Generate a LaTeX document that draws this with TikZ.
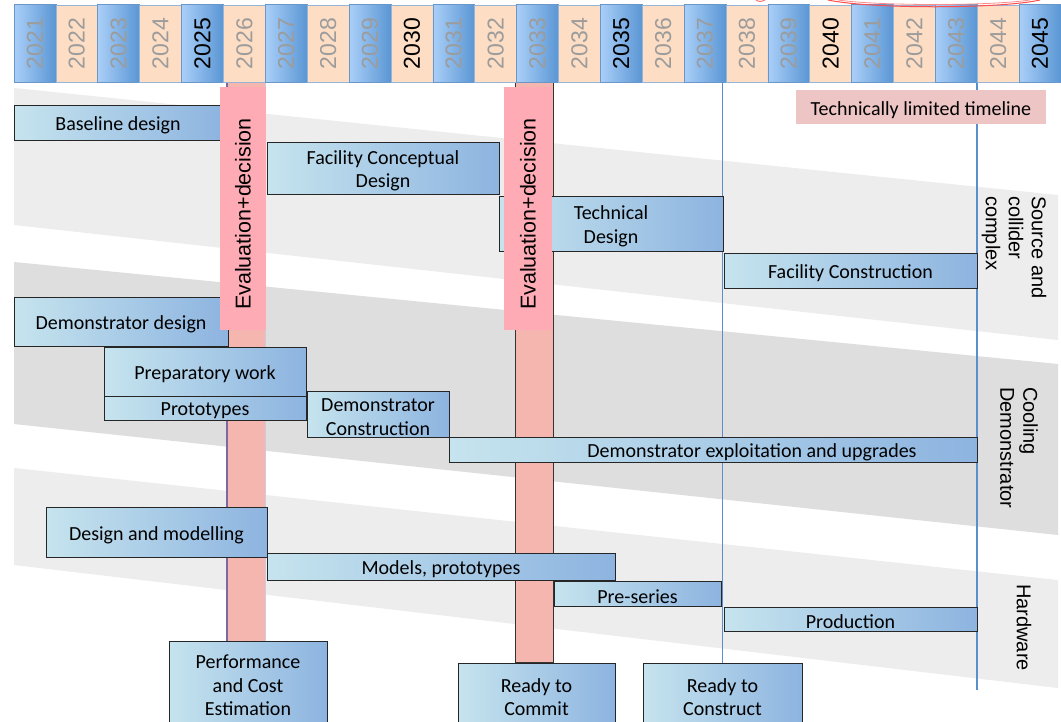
\documentclass[tikz,border=0pt]{standalone}
\usepackage{fontspec}
\usepackage{graphicx}
\setmainfont{Carlito}
\newfontfamily\arialf{Liberation Sans}
\usetikzlibrary{shadows}
\definecolor{bandA}{HTML}{EDEDED}
\definecolor{bandB}{HTML}{DEDEDE}
\definecolor{yrBlueL}{HTML}{AACFF8}
\definecolor{yrBlueR}{HTML}{5A96D4}
\definecolor{yrPeach}{HTML}{FDDDC3}
\definecolor{yrEdge}{HTML}{6A96C8}
\definecolor{yrGrey}{HTML}{9C9C9C}
\definecolor{boxL}{HTML}{C6E4EE}
\definecolor{boxR}{HTML}{8DB4E0}
\definecolor{evalPink}{HTML}{FFABB5}
\definecolor{colSalmon}{HTML}{F5B6AF}
\definecolor{colPurple}{HTML}{7A6AA0}
\definecolor{colLav}{HTML}{CFC8E2}
\definecolor{lineBlue}{HTML}{5B8FCB}
\definecolor{tltPink}{HTML}{EEC5C5}
\newcommand\taskbox[6]{%
  \node[task] (#1) at ({(#2+#4)/2},{(#3+#5)/2})
     [minimum width={(#4-#2)*1pt}, minimum height={(#5-#3)*1pt}] {};
  \node[tasktext] (#1t) at ([yshift=-3pt]#1.center) {#6};}
\begin{document}
\begin{tikzpicture}[x=1pt,y=-1pt,
  task/.style={draw=black!85, line width=0.7pt, left color=boxL, right color=boxR,
    inner sep=0pt,
    drop shadow={shadow xshift=1pt, shadow yshift=-1pt, opacity=0.25}},
  tasktext/.style={inner sep=0pt, align=center, font=\fontsize{20}{23.5}\selectfont},
  yrblue/.style={draw=yrEdge, line width=0.6pt, left color=yrBlueL, right color=yrBlueR,
    minimum width=41.88pt, minimum height=78pt, inner sep=0pt},
  yrpeach/.style={draw=yrEdge!70, line width=0.6pt, fill=yrPeach,
    minimum width=41.88pt, minimum height=77pt, inner sep=0pt},
  evallabel/.style={fill=evalPink, inner sep=0pt, font=\arialf\fontsize{21.5}{24}\selectfont},
  sidelabel/.style={rotate=-90, anchor=west, align=left, inner sep=0pt,
    font=\arialf\fontsize{20}{23}\selectfont},
  vline/.style={draw=lineBlue, line width=1.7pt},
]
\useasboundingbox (0,0) rectangle (1061,721);
\fill[white] (0,0) rectangle (1061,721);

% background bands
\fill[bandA] (14,88) -- (1058,195) -- (1058,340) -- (14,225) -- cycle;
\fill[bandB] (14,262) -- (1058,364) -- (1058,535) -- (14,424) -- cycle;
\fill[bandA] (14,468) -- (1058,580) -- (1058,688) -- (14,565) -- cycle;

% bottom milestone boxes (placed first so columns can reach them)
\taskbox{pce}{169}{641}{327}{724}{Performance\\and Cost\\Estimation}
\taskbox{rtc}{458}{663}{615}{725}{Ready to\\Commit}
\taskbox{rtcon}{643}{663}{802}{725}{Ready to\\Construct}

% decision columns
\coordinate (c1top) at (226,82);
\coordinate (c2top) at (515,82);
\fill[colSalmon] (c1top) rectangle (pce.north -| 265,0);
\draw[colPurple, line width=1.5pt] (226.8,82) -- (pce.north -| 226.8,0);
\draw[colLav, line width=1.2pt] (265.5,82) -- (pce.north -| 265.5,0);
\draw[black!80, line width=0.8pt, fill=colSalmon] (c2top) rectangle (rtc.north -| 553,0);

% milestone lines
\coordinate (bl1top) at (rtcon.north |- 0,82);
\draw[vline] (bl1top) -- (rtcon.north);
\coordinate (bl2top) at (977,82);
\coordinate (bl2bot) at (977,690);
\draw[vline] (bl2top) -- (bl2bot);

% year bar
\foreach \i in {0,...,24}{
  \pgfmathtruncatemacro\yr{2021+\i}
  \pgfmathsetmacro\xc{14+41.88*\i+20.94}
  \pgfmathtruncatemacro\yp{mod(\i,2)}
  \pgfmathtruncatemacro\yk{mod(\yr,5)}
  \ifnum\yp=0 \def\cellstyle{yrblue}\else\def\cellstyle{yrpeach}\fi
  \ifnum\yk=0 \def\ycol{black}\else\def\ycol{yrGrey}\fi
  \node[\cellstyle, text=\ycol, font=\arialf\fontsize{23}{26}\selectfont] (y\yr) at (\xc,43.5) {\rotatebox{90}{\yr}};
}

% tasks
\taskbox{base}{14}{105}{222}{140}{Baseline design}
\taskbox{fcd}{267}{142}{499}{194}{Facility Conceptual\\Design}
\taskbox{tech}{499}{196}{723}{251}{Technical\\Design}
\taskbox{fc}{724}{253}{977}{288}{Facility Construction}
\taskbox{dd}{14}{297}{228}{346}{Demonstrator design}
\taskbox{prep}{104}{347}{306}{396}{Preparatory work}
\taskbox{proto}{104}{396}{306}{420}{Prototypes}
\taskbox{dcon}{307}{391}{449}{437}{Demonstrator\\Construction}
\node[task, minimum width=528pt, minimum height=25pt] (dexp) at (713,449.5) {};
\node[tasktext] (dexpt) at (752,452.5) {Demonstrator exploitation and upgrades};
\taskbox{dm}{46}{507}{267}{557}{Design and modelling}
\taskbox{mp}{267}{553}{615}{580}{Models, prototypes}
\taskbox{pre}{554}{581}{721}{606}{Pre-series}
\taskbox{prod}{724}{607}{977}{631}{Production}

% evaluation labels
\node[evallabel, minimum width=46pt, minimum height=243pt] (ev1) at (243,208.5)
  {\rotatebox{90}{Evaluation+decision\hspace*{11pt}}};
\node[evallabel, minimum width=48pt, minimum height=243pt] (ev2) at (528,208.5)
  {\rotatebox{90}{Evaluation+decision\hspace*{11pt}}};

% technically limited timeline
\node[fill=tltPink, minimum width=250pt, minimum height=34pt, inner sep=0pt] (tlt) at (921,107) {};
\node[tasktext] (tltt) at ([yshift=-3pt]tlt.center) {Technically limited timeline};

% side labels
\node[sidelabel] (src) at (1014,196) {Source and\\collider\\complex};
\node[sidelabel] (cool) at (1019,387) {Cooling\\Demonstrator};
\node[sidelabel] (hw) at (1024,584) {Hardware};

% clipped red marks at the top edge
\draw[red!70, line width=1pt] (828,0) .. controls (870,9) and (1000,9) .. (1040,0);
\draw[red!45, line width=0.8pt] (838,0) .. controls (880,6) and (990,6) .. (1030,0);
\draw[red!55, line width=1pt] (756,0) .. controls (760,2) .. (765,0);
\end{tikzpicture}
\end{document}
